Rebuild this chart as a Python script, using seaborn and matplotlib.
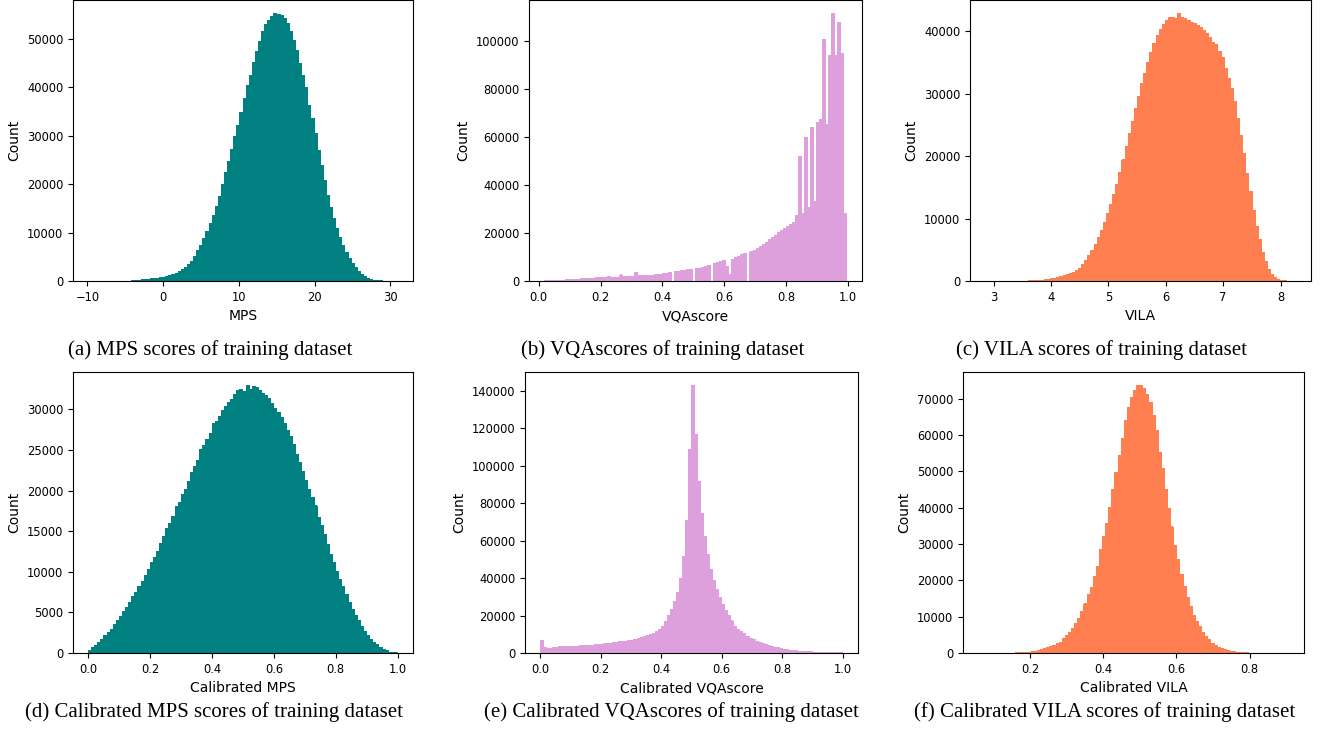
# Histograms of raw and calibrated reward scores (MPS, VQAscore, VILA)
import numpy as np
import pandas as pd
import matplotlib
matplotlib.use("Agg")
import matplotlib.pyplot as plt
from matplotlib.ticker import MultipleLocator
import seaborn as sns

# bin counts, 100 equal-width bins per panel
mps_counts = [
    0, 0, 0, 0, 0, 0, 0, 0, 0, 0,
    0, 0, 0, 0, 60, 100, 160, 230, 300, 370,
    450, 530, 620, 700, 800, 1000, 1150, 1400, 1650, 1950,
    2350, 2800, 3400, 4000, 5000, 6300, 7300, 8700, 10200, 11800,
    13600, 15400, 17500, 19900, 22400, 24700, 27200, 29900, 32200, 34800,
    37800, 40300, 42500, 45200, 47400, 49500, 51600, 53000, 53900, 54600,
    55300, 55100, 54900, 54200, 53200, 51600, 49600, 47600, 45000, 42500,
    39900, 36300, 33500, 30400, 27000, 23800, 20800, 17600, 15200, 12900,
    10900, 8900, 7300, 5900, 4700, 3600, 2700, 1950, 1300, 850,
    500, 300, 160, 80, 40, 0, 0, 0, 0, 0,
]
vqa_counts = [
    20, 50, 100, 150, 220, 300, 400, 500, 600, 650,
    700, 800, 900, 1100, 900, 1000, 1000, 1400, 1500, 1500,
    1600, 2000, 1300, 1300, 1400, 2500, 1800, 1900, 1900, 2000,
    3700, 2200, 2200, 2300, 2300, 2300, 2500, 2700, 2900, 3100,
    3200, 3400, 0, 3900, 4100, 4300, 4500, 4700, 4900, 0,
    5000, 5400, 5800, 6200, 6600, 0, 7200, 7600, 8000, 8500,
    6000, 2700, 9000, 9700, 10300, 10900, 11500, 0, 12200, 12700,
    13500, 14500, 15100, 16100, 17200, 18000, 19100, 20100, 21000, 21900,
    22700, 23500, 24400, 27100, 52000, 28300, 59700, 30600, 63700, 33000,
    66000, 67400, 100400, 65100, 93800, 111400, 93800, 107800, 94500, 28300,
]
vila_counts = [
    0, 0, 0, 0, 0, 0, 0, 0, 0, 0,
    0, 0, 0, 0, 50, 70, 90, 110, 150, 200,
    300, 380, 460, 550, 680, 850, 1000, 1200, 1400, 1650,
    2000, 2600, 3300, 4100, 4900, 5800, 6900, 8100, 9400, 10800,
    12200, 13800, 15500, 17400, 19400, 21500, 23600, 25500, 27600, 29500,
    31600, 33200, 35100, 36700, 38100, 39400, 40300, 41100, 41800, 42200,
    42300, 42100, 42900, 42300, 42000, 41800, 41500, 41200, 41000, 40600,
    40200, 39700, 39000, 38300, 37900, 36800, 35800, 34100, 32500, 30900,
    28700, 26100, 23400, 20500, 17300, 14400, 11300, 8700, 6600, 4600,
    3200, 1900, 1000, 600, 300, 120, 50, 0, 0, 0,
]
cal_mps_counts = [
    330, 620, 950, 1300, 1700, 2150, 2550, 2950, 3450, 3950,
    4500, 5050, 5650, 6250, 6900, 7500, 8150, 8850, 9550, 10300,
    11100, 11750, 12550, 13500, 14400, 15300, 16000, 16850, 18000, 18500,
    19500, 20150, 21150, 22200, 23000, 23750, 25050, 25500, 26300, 27050,
    28300, 28550, 29100, 29800, 30400, 30800, 31250, 31800, 32300, 32400,
    32150, 32950, 32400, 32800, 32700, 32350, 32000, 31650, 31350, 30750,
    30150, 29600, 29000, 28300, 27450, 26700, 25700, 24450, 23450, 22400,
    21300, 20150, 19100, 18100, 16700, 15750, 14600, 13300, 12100, 11100,
    10050, 9100, 8150, 7150, 6250, 5350, 4650, 4050, 3300, 2700,
    2200, 1700, 1300, 1000, 650, 400, 250, 120, 60, 20,
]
cal_vqa_counts = [
    6800, 2700, 2600, 2600, 2700, 2800, 3400, 3300, 3300, 3400,
    3500, 3600, 3700, 3800, 3900, 4000, 4100, 4200, 4400, 4500,
    4700, 5000, 5150, 5300, 5500, 5700, 5900, 6100, 6300, 6500,
    6800, 7200, 7600, 8100, 8600, 9200, 9800, 10500, 11300, 12500,
    14000, 17000, 20000, 23200, 27500, 32500, 40000, 51700, 71000, 109000,
    143000, 117000, 91500, 74400, 62000, 52600, 44600, 39000, 34000, 29400,
    25900, 22800, 20000, 17100, 14300, 12800, 11600, 10300, 8900, 7800,
    7000, 6100, 5400, 5000, 4500, 3900, 3400, 3000, 2700, 2300,
    2000, 1800, 1600, 1400, 1200, 1050, 900, 800, 700, 600,
    500, 420, 350, 290, 230, 180, 130, 90, 50, 20,
]
cal_vila_counts = [
    0, 0, 0, 0, 0, 0, 0, 0, 0, 0,
    0, 0, 60, 100, 140, 200, 260, 350, 500, 700,
    950, 1150, 1400, 1700, 2100, 2500, 2950, 3870, 4800, 5700,
    6700, 8100, 9600, 11500, 13500, 16000, 18100, 21200, 23900, 28500,
    32000, 35700, 40100, 45100, 49600, 54300, 59100, 64000, 67700, 70500,
    72200, 73700, 73700, 72800, 71300, 69100, 65400, 61300, 55300, 50700,
    45100, 39900, 34700, 29700, 25800, 21600, 18400, 15200, 12900, 10300,
    8750, 7370, 5700, 4600, 3700, 2750, 2100, 1650, 1300, 900,
    650, 450, 300, 200, 130, 80, 50, 0, 0, 0,
    0, 0, 0, 0, 0, 0, 0, 0, 0, 0,
]

# data range (min, max) of each score
mps_range = (-9.86, 30.95)
vqa_range = (0.0178, 0.996)
vila_range = (2.86, 8.26)
cal_mps_range = (0.0, 1.0)
cal_vqa_range = (0.0, 1.0)
cal_vila_range = (0.0596, 0.906)

names = ["MPS", "VQAscore", "VILA", "Calibrated MPS", "Calibrated VQAscore", "Calibrated VILA"]
captions = [
    "(a) MPS scores of training dataset",
    "(b) VQAscores of training dataset",
    "(c) VILA scores of training dataset",
    "(d) Calibrated MPS scores of training dataset",
    "(e) Calibrated VQAscores of training dataset",
    "(f) Calibrated VILA scores of training dataset",
]
all_counts = [mps_counts, vqa_counts, vila_counts, cal_mps_counts, cal_vqa_counts, cal_vila_counts]
all_ranges = [mps_range, vqa_range, vila_range, cal_mps_range, cal_vqa_range, cal_vila_range]
colors = ["teal", "plum", "coral", "teal", "plum", "coral"]
x_steps = [10, 0.2, 1, 0.2, 0.2, 0.2]

W, H = 1323, 736
fig = plt.figure(figsize=(W / 100, H / 100), dpi=100)

# axes boxes in pixels: left, top, right, bottom
boxes = [
    (73, 0, 413, 281), (529, 0, 862, 281), (970, 0, 1311, 281),
    (73, 372, 413, 653), (525, 372, 858, 653), (963, 372, 1304, 653),
]
# caption centres in pixels
cap_pos = [(210, 350), (663, 350), (1102, 350), (214, 712), (671, 712), (1105, 712)]

for i in range(6):
    l, t, r, b = boxes[i]
    ax = fig.add_axes([l / W, 1 - b / H, (r - l) / W, (b - t) / H])
    lo, hi = all_ranges[i]
    # one point per bin centre, weighted by its count
    centers = lo + (hi - lo) * (np.arange(100) + 0.5) / 100
    df = pd.DataFrame({names[i]: centers, "count": all_counts[i]})
    # no edges, no snapping, no antialiasing: neighbouring bars join without seams
    sns.histplot(data=df, x=names[i], weights="count", bins=100, binrange=(lo, hi),
                 color=colors[i], alpha=1, linewidth=0, antialiased=False,
                 snap=False, ax=ax)
    ax.xaxis.set_major_locator(MultipleLocator(x_steps[i]))
    ax.tick_params(labelsize=8.3)
    ax.set_xlabel(names[i], fontsize=10)
    ax.set_ylabel("Count", fontsize=10)

    cx, cy = cap_pos[i]
    fig.text(cx / W, 1 - cy / H, captions[i], ha="center", va="center",
             fontsize=15, family="Liberation Serif")

fig.savefig("out.png", dpi=100)
